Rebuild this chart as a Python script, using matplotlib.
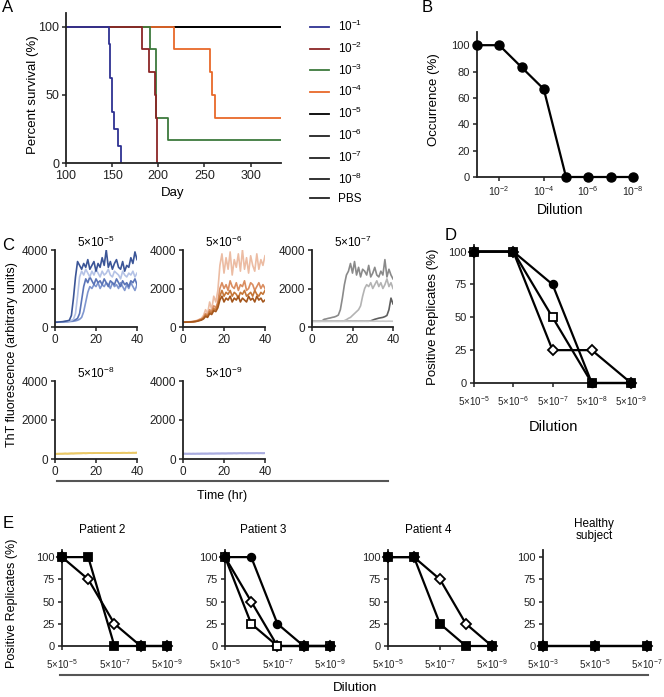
import matplotlib
matplotlib.use("Agg")
import matplotlib.pyplot as plt
from matplotlib.lines import Line2D
import numpy as np

plt.rcParams['font.family'] = ['Liberation Sans', 'DejaVu Sans']
plt.rcParams['mathtext.default'] = 'regular'
plt.rcParams['axes.unicode_minus'] = False

W, H = 664, 697

# ---------------- data ----------------
# A: survival curves (day, percent)
surv_labels = ['$10^{-1}$', '$10^{-2}$', '$10^{-3}$', '$10^{-4}$', '$10^{-5}$',
               '$10^{-6}$', '$10^{-7}$', '$10^{-8}$', 'PBS']
surv_colors = ['#2e3192', '#8b2525', '#3d7a3d', '#e8692a', 'black',
               '#222222', '#222222', '#222222', '#222222']
days_1 = [100, 147, 148, 149.5, 152, 156.5, 159.5]
surv_1 = [100, 87.5, 62.5, 37.5, 25, 12.5, 0]
days_2 = [100, 182, 190, 196, 198, 199]
surv_2 = [100, 83.3, 66.7, 50, 33.3, 0]
days_3 = [100, 191, 197.5, 210, 333]
surv_3 = [100, 83.3, 33.3, 16.7, 16.7]
days_4 = [100, 217.5, 256, 258, 261, 333]
surv_4 = [100, 83.3, 66.7, 50, 33.3, 33.3]
days_flat = [100, 333]
surv_flat = [100, 100]

# B: occurrence vs dilution
b_dil = ['$10^{-1}$', '$10^{-2}$', '$10^{-3}$', '$10^{-4}$',
         '$10^{-5}$', '$10^{-6}$', '$10^{-7}$', '$10^{-8}$']
b_occ = [100, 100, 83.3, 66.7, 0, 0, 0, 0]

# C: ThT traces, one value per hour 0..40
hours = list(range(41))
c1_title = '5×10$^{-5}$'
c1_dark = [250,250,260,270,280,300,320,350,600,1500,2600,3400,3200,3000,3300,3100,3500,3000,3200,3400,
           2900,3300,3100,3600,3200,4000,3100,3400,3000,3300,3500,3100,3000,3400,2900,3200,3100,3600,3300,3900,3500]
c1_light = [250,250,255,260,270,280,290,310,340,400,700,1600,2600,2900,2700,3000,2800,2600,2900,2700,
            3000,2800,2600,2900,2700,2800,3000,2700,2600,2900,2800,2700,2500,2900,2700,2600,2800,2700,2900,2600,2800]
c1_mid1 = [250,250,255,260,270,280,290,300,320,340,380,450,700,1400,2100,2500,2300,2600,2400,2200,
           2500,2300,2400,2200,2500,2300,2100,2400,2300,2200,2500,2300,2100,2400,2200,2300,2100,2400,2300,2500,2200]
c1_mid2 = [250,250,252,255,260,265,270,280,290,300,320,350,400,500,800,1300,1800,2100,2000,2200,
           2100,2300,2000,2200,2100,2300,2200,2000,2300,2100,2200,2000,2300,2100,1900,2200,2000,2300,2100,1900,2200]
c2_title = '5×10$^{-6}$'
c2_light = [250,250,260,270,280,300,320,350,400,450,600,900,700,1300,900,1600,1300,1900,3200,3800,
            2800,3600,3000,3900,2700,3500,3100,3800,2900,4000,3000,3600,2800,3700,3200,2900,3800,3000,3500,3200,3700]
c2_mid = [250,250,255,260,270,280,300,330,380,420,500,700,600,900,800,1100,1000,1300,2000,2300,
          2000,2200,1900,2400,2100,2000,2300,1900,2200,2100,2400,1900,2000,2300,2200,1900,2100,2300,2000,2200,2000]
c2_brown = [250,250,255,260,268,275,290,310,350,390,460,620,550,800,720,950,900,1150,1600,1900,
            1600,1800,1700,1900,1600,1800,1700,1500,1800,1700,1900,1600,1700,1800,1600,1900,1700,1600,1800,1700,1900]
c2_dark = [250,250,255,260,265,270,280,300,330,360,420,550,500,700,650,850,800,1000,1400,1600,
           1300,1500,1400,1600,1300,1500,1400,1600,1300,1500,1400,1300,1600,1400,1500,1300,1600,1400,1500,1300,1400]
c3_title = '5×10$^{-7}$'
c3_mid = [300,300,300,300,300,320,400,420,450,470,500,520,560,620,900,1500,2200,2700,2900,3300,
          2800,3400,2700,3100,2600,3000,2900,2700,3200,2600,2800,3100,2700,2600,2900,2700,3500,2600,3000,2700,2500]
c3_light = [300,300,300,300,300,300,300,300,300,300,300,300,300,300,300,300,330,380,450,500,
            600,700,800,900,1100,1600,2000,2200,2100,2300,2000,2200,2400,2100,2300,2000,2200,2500,2100,2300,2000]
c3_dark = [300,300,300,300,300,300,300,300,300,300,300,300,300,300,300,300,300,300,300,300,
           300,300,300,300,300,300,300,300,300,320,360,400,430,460,480,500,540,600,900,1500,1200]
c3_flat = [300,300,305,300,300,305,300,300,305,300,300,305,300,300,305,300,300,305,300,300,
           305,300,300,305,300,300,305,300,300,305,300,300,305,300,300,305,300,300,305,300,300]
c4_title = '5×10$^{-8}$'
c4_a = [270,275,280,275,280,285,280,285,290,285,290,295,290,295,300,295,300,305,300,310,
        300,305,310,305,310,315,310,315,320,310,320,315,320,325,320,315,325,320,325,320,330]
c4_b = [260,265,265,270,270,275,270,275,280,280,285,285,290,290,295,290,295,300,295,300,
        300,305,300,305,310,305,310,305,310,315,310,315,310,315,320,315,320,315,320,320,325]
c5_title = '5×10$^{-9}$'
c5_a = [280,280,275,280,275,280,275,280,280,285,280,285,280,285,285,280,285,290,285,290,
        290,285,290,295,290,295,290,295,300,295,300,295,300,295,300,295,300,295,300,295,300]
c5_b = [270,270,268,270,268,270,270,272,270,272,275,272,275,278,275,278,280,278,280,282,
        280,282,285,282,285,288,285,288,290,288,290,288,290,292,290,292,295,292,295,292,295]

# D: positive replicates
d_dil = ['5×10$^{-5}$', '5×10$^{-6}$', '5×10$^{-7}$', '5×10$^{-8}$', '5×10$^{-9}$']
d_circle = [100, 100, 75, 0, 0]
d_square = [100, 100, 50, 0, 0]
d_diamond = [100, 100, 25, 25, 0]

# E: patients
e_dil = ['5×10$^{-5}$', '5×10$^{-6}$', '5×10$^{-7}$', '5×10$^{-8}$', '5×10$^{-9}$']
e_dil_healthy = ['5×10$^{-3}$', '5×10$^{-5}$', '5×10$^{-7}$']
p2_square = [100, 100, 0, 0, 0]
p2_diamond = [100, 75, 25, 0, 0]
p3_circle = [100, 100, 25, 0, 0]
p3_diamond = [100, 50, 0, 0, 0]
p3_square = [100, 25, 0, 0, 0]
p4_square = [100, 100, 25, 0, 0]
p4_diamond = [100, 100, 75, 25, 0]
healthy = [0, 0, 0]

# ---------------- helpers ----------------
fig = plt.figure(figsize=(W / 100, H / 100), dpi=100)


def box(x0, y0, x1, y1):
    return fig.add_axes([x0 / W, 1 - y1 / H, (x1 - x0) / W, (y1 - y0) / H])


def ftext(x, y, s, **kw):
    kw.setdefault('ha', 'center')
    kw.setdefault('va', 'center')
    return fig.text(x / W, 1 - y / H, s, **kw)


def style(ax, size=8):
    for s in ['top', 'right']:
        ax.spines[s].set_visible(False)
    for s in ['left', 'bottom']:
        ax.spines[s].set_linewidth(1.3)
        ax.spines[s].set_color('#222222')
    ax.tick_params(direction='out', length=3, width=1.1, labelsize=size, pad=2,
                   colors='#222222')
    ax.patch.set_alpha(0)


# ---------------- A ----------------
axA = box(66, 13, 281, 163)
style(axA, 9)
flat_lines = []
for col in surv_colors[4:][::-1]:
    ln, = axA.step(days_flat, surv_flat, where='post', color=col, lw=1.3)
    flat_lines.append(ln)
h4, = axA.step(days_4, surv_4, where='post', color=surv_colors[3], lw=1.3)
h3, = axA.step(days_3, surv_3, where='post', color=surv_colors[2], lw=1.3)
h2, = axA.step(days_2, surv_2, where='post', color=surv_colors[1], lw=1.3)
h1, = axA.step(days_1, surv_1, where='post', color=surv_colors[0], lw=1.3)
handles = [h1, h2, h3, h4] + flat_lines[::-1]
axA.set_xlim(100, 333)
axA.set_ylim(0, 110)
axA.set_xticks([100, 150, 200, 250, 300])
axA.set_yticks([0, 50, 100])
axA.legend(handles, surv_labels, loc='upper left', bbox_to_anchor=(305 / W, 1 - 14 / H),
           bbox_transform=fig.transFigure, frameon=False, fontsize=8.5,
           handlelength=1.6, handletextpad=0.8, labelspacing=0.56, borderaxespad=0)
ftext(33, 95, 'Percent survival (%)', rotation=90, fontsize=9.5)
ftext(173, 193, 'Day', fontsize=9.5)
ftext(8, 8, 'A', fontsize=12)

# ---------------- B ----------------
axB = box(477, 32, 635, 177)
style(axB, 8)
xb = np.arange(len(b_occ))
axB.plot(xb, b_occ, color='black', lw=1.6, marker='o', ms=6.5, clip_on=False, zorder=3)
axB.set_xlim(0, 7.1)
axB.set_ylim(0, 110)
axB.set_yticks([0, 20, 40, 60, 80, 100])
axB.set_xticks(xb[1::2])
axB.set_xticklabels(b_dil[1::2], fontsize=7.5)
ftext(434, 100, 'Occurrence (%)', rotation=90, fontsize=9.5)
ftext(560, 210, 'Dilution', fontsize=10)
ftext(427, 8, 'B', fontsize=12)

# ---------------- C ----------------
c_boxes = [(55, 250, 137, 327), (183, 250, 265, 327), (312, 250, 393, 327),
           (55, 381, 137, 459), (183, 381, 265, 459)]
c_sets = [
    (c1_title, [(c1_mid2, '#7f96cf'), (c1_mid1, '#5a74b7'), (c1_light, '#b5c3e6'), (c1_dark, '#3b5597')]),
    (c2_title, [(c2_light, '#ecbca3'), (c2_mid, '#da8d60'), (c2_brown, '#c57637'), (c2_dark, '#a4561c')]),
    (c3_title, [(c3_dark, '#5e5e5e'), (c3_mid, '#8a8a8a'), (c3_light, '#b3b3b3'), (c3_flat, '#c9c9c9')]),
    (c4_title, [(c4_b, '#d8b650'), (c4_a, '#ecc964')]),
    (c5_title, [(c5_b, '#8f93d6'), (c5_a, '#a9acdf')]),
]
for bx, (title, traces) in zip(c_boxes, c_sets):
    ax = box(*bx)
    style(ax, 8.5)
    for vals, col in traces:
        ax.plot(hours, vals, color=col, lw=1.2)
    ax.set_xlim(0, 40)
    ax.set_ylim(0, 4000)
    ax.set_xticks([0, 20, 40])
    ax.set_yticks([0, 2000, 4000])
    ax.text(0.5, 1.0, title, transform=ax.transAxes, ha='center', va='bottom', fontsize=8.5)
ftext(12, 355, 'ThT fluorescence (arbitrary units)', rotation=90, fontsize=9)
fig.add_artist(Line2D([57 / W, 388 / W], [1 - 481 / H, 1 - 481 / H], color='#555555', lw=1.5))
ftext(222, 496, 'Time (hr)', fontsize=9)
ftext(8, 245, 'C', fontsize=12)

# ---------------- D ----------------
mk = dict(color='black', lw=1.6, clip_on=False, mec='black', mew=1.3)
axD = box(474, 245, 635, 383)
style(axD, 8)
xd = np.arange(len(d_dil))
axD.plot(xd, d_diamond, marker='D', ms=5.5, mfc='white', zorder=3, **mk)
axD.plot(xd, d_square, marker='s', ms=6, mfc='white', zorder=4, **mk)
axD.plot(xd, d_circle, marker='o', ms=5.5, mfc='black', zorder=5, **mk)
axD.set_xlim(0, 4.1)
axD.set_ylim(0, 105)
axD.set_yticks([0, 25, 50, 75, 100])
axD.set_xticks(xd)
axD.set_xticklabels(d_dil, fontsize=7)
axD.tick_params(axis='x', pad=5)
ftext(433, 317, 'Positive Replicates (%)', rotation=90, fontsize=9.5)
ftext(553, 427, 'Dilution', fontsize=10.5)
ftext(451, 236, 'D', fontsize=12)

# ---------------- E ----------------
e_boxes = [(62, 550, 170, 646), (225, 550, 333, 646), (388, 550, 495, 646), (543, 550, 650, 646)]
e_sets = [
    [(p2_diamond, 'D', 'white', 5.5), (p2_square, 's', 'black', 6)],
    [(p3_diamond, 'D', 'white', 5.5), (p3_square, 's', 'white', 6), (p3_circle, 'o', 'black', 5.5)],
    [(p4_diamond, 'D', 'white', 5.5), (p4_square, 's', 'black', 6)],
]
for bx, series in zip(e_boxes[:3], e_sets):
    ax = box(*bx)
    style(ax, 8)
    xe = np.arange(len(e_dil))
    for k, (vals, m, fc, ms) in enumerate(series):
        ax.plot(xe, vals, marker=m, ms=ms, mfc=fc, zorder=3 + k, **mk)
    ax.set_xlim(0, 4.12)
    ax.set_ylim(0, 108)
    ax.set_yticks([0, 25, 50, 75, 100])
    ax.set_xticks(xe[::2])
    ax.set_xticklabels(e_dil[::2], fontsize=7)
    ax.tick_params(axis='x', pad=5)
axH = box(*e_boxes[3])
style(axH, 8)
xh = np.arange(len(healthy))
axH.plot(xh, healthy, marker='D', ms=5.5, mfc='black', zorder=3, **mk)
axH.plot(xh, healthy, marker='s', ms=6, mfc='black', zorder=4, **mk)
axH.set_xlim(0, 2.06)
axH.set_ylim(0, 108)
axH.set_yticks([0, 25, 50, 75, 100])
axH.set_xticks(xh)
axH.set_xticklabels(e_dil_healthy, fontsize=7)
axH.tick_params(axis='x', pad=5)

ftext(102, 530, 'Patient 2', fontsize=8.5)
ftext(263, 530, 'Patient 3', fontsize=8.5)
ftext(428, 530, 'Patient 4', fontsize=8.5)
ftext(594, 530, 'Healthy\nsubject', fontsize=8.5, linespacing=1.1)
ftext(12, 603, 'Positive Replicates (%)', rotation=90, fontsize=9)
fig.add_artist(Line2D([60 / W, 648 / W], [1 - 675 / H, 1 - 675 / H], color='#555555', lw=1.5))
ftext(355, 688, 'Dilution', fontsize=9.5)
ftext(8, 524, 'E', fontsize=12)

fig.savefig('out.png', dpi=100)
